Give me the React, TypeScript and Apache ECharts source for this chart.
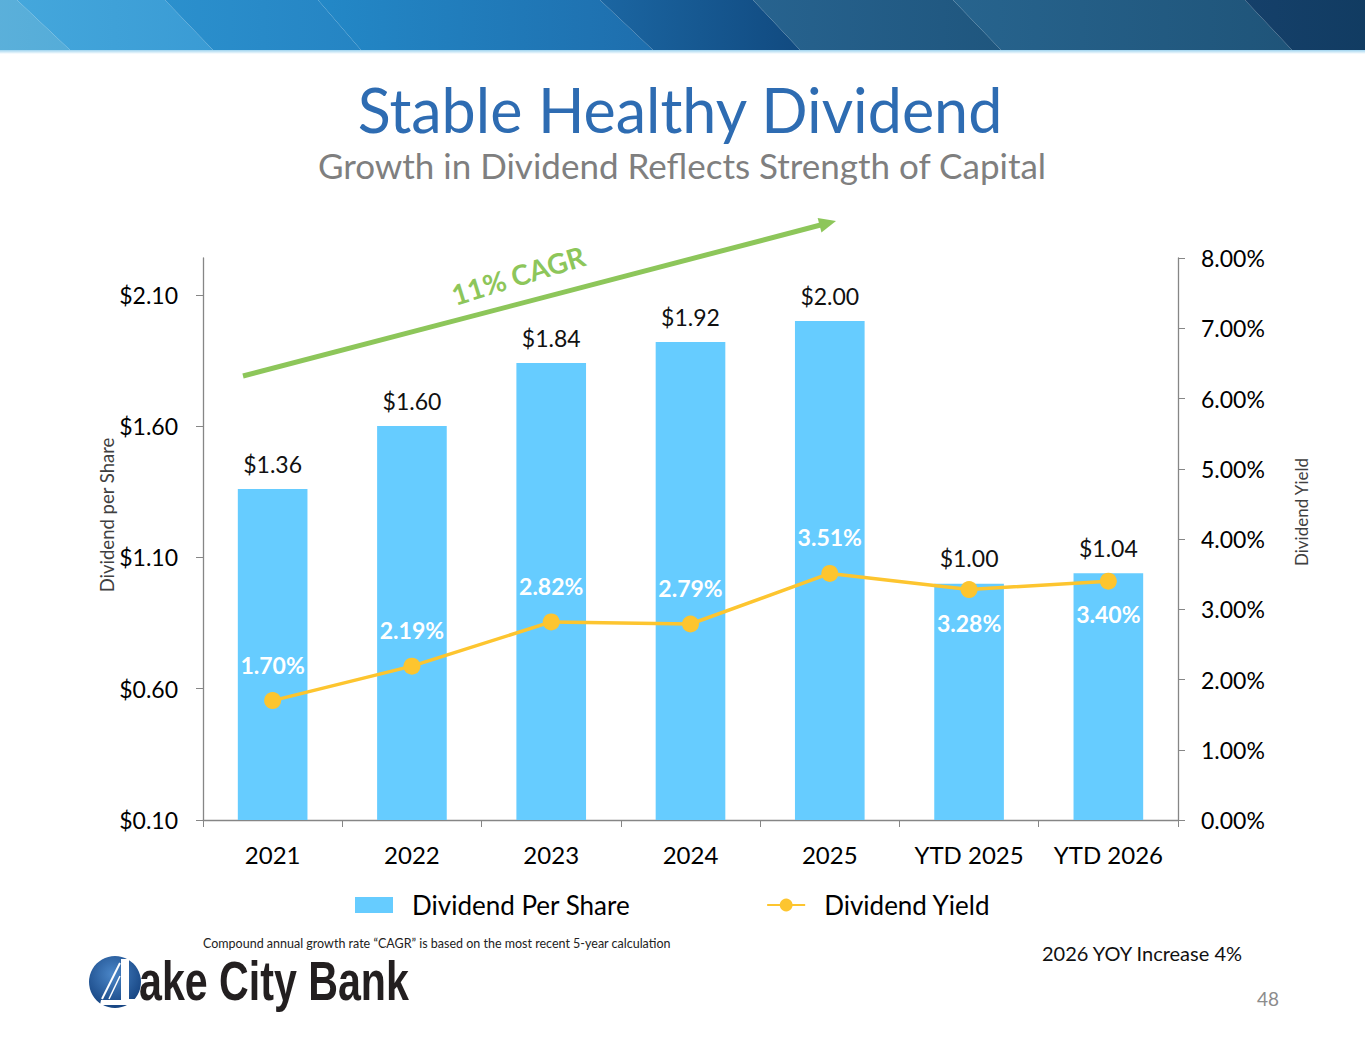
import { useEffect, useRef } from "react";
import * as echarts from "echarts";

const categories = ["2021", "2022", "2023", "2024", "2025", "YTD 2025", "YTD 2026"];
const dividendPerShare = [1.36, 1.6, 1.84, 1.92, 2.0, 1.0, 1.04];
const dividendYield = [1.7, 2.19, 2.82, 2.79, 3.51, 3.28, 3.4];
const shareTicks = [0.1, 0.6, 1.1, 1.6, 2.1];

const FONT = "Lato, 'Open Sans', sans-serif";
const GREEN = "#8dc65a";

// diagonal bands of the header strip: top-left, top-right, bottom-right, bottom-left x, colours
const bands: [number, number, number, number, string, string][] = [
  [-60, 17, 70, -10, "#5fb3dc", "#55acd8"],
  [17, 165, 213, 70, "#44a7dc", "#3a9bd4"],
  [165, 318, 361, 213, "#2b90cd", "#2584c3"],
  [318, 600, 653, 361, "#2388c7", "#1e6ead"],
  [600, 753, 800, 653, "#1b66a2", "#114a80"],
  [753, 953, 1001, 800, "#27638f", "#1f567e"],
  [953, 1245, 1292, 1001, "#27648e", "#1f5479"],
  [1245, 1420, 1470, 1292, "#15406a", "#0e385b"],
];

function headerGraphics() {
  const els: any[] = bands.map(([a, b, c, d, c1, c2]) => ({
    type: "polygon",
    shape: { points: [[a, 0], [b, 0], [c, 50], [d, 50]] },
    style: {
      fill: {
        type: "linear", x: 0, y: 0, x2: 1, y2: 0,
        colorStops: [{ offset: 0, color: c1 }, { offset: 1, color: c2 }],
      },
    },
    silent: true,
  }));
  els.push({
    type: "rect",
    shape: { x: 0, y: 50, width: 1365, height: 4 },
    style: {
      fill: {
        type: "linear", x: 0, y: 0, x2: 0, y2: 1,
        colorStops: [{ offset: 0, color: "#9fd4ef" }, { offset: 1, color: "#ffffff" }],
      },
    },
    silent: true,
  });
  return els;
}

function text(x: number, y: number, t: string, fontSize: number, fill: string, extra: any = {}) {
  const align = extra.align || "left";
  return {
    type: "text",
    x,
    y,
    rotation: extra.rotation || 0,
    scaleX: extra.scaleX || 1,
    silent: true,
    style: {
      text: t,
      fontSize,
      fontFamily: extra.fontFamily || FONT,
      fontWeight: extra.fontWeight || "normal",
      fill,
      align,
      textAlign: align,
      verticalAlign: "middle",
      textVerticalAlign: "middle",
    },
  };
}

function arrowGraphics() {
  const x1 = 243, y1 = 376, tx = 836, ty = 221;
  const len = Math.hypot(tx - x1, ty - y1);
  const dx = (tx - x1) / len, dy = (ty - y1) / len;
  const bx = tx - 17 * dx, by = ty - 17 * dy;
  return [
    {
      type: "line",
      shape: { x1, y1, x2: bx + 2 * dx, y2: by + 2 * dy },
      style: { stroke: GREEN, lineWidth: 5 },
      silent: true,
    },
    {
      type: "polygon",
      shape: {
        points: [[tx, ty], [bx - 7.5 * dy, by + 7.5 * dx], [bx + 7.5 * dy, by - 7.5 * dx]],
      },
      style: { fill: GREEN },
      silent: true,
    },
    text(518, 275, "11% CAGR", 28, GREEN, { align: "center", fontWeight: "bold", rotation: 0.3 }),
  ];
}

function logoGraphics() {
  return [
    {
      type: "circle",
      shape: { cx: 115, cy: 982, r: 26 },
      style: {
        fill: {
          type: "radial", x: 0.45, y: 0.35, r: 0.7,
          colorStops: [{ offset: 0, color: "#4a86c8" }, { offset: 1, color: "#123f7c" }],
        },
      },
      silent: true,
    },
    {
      type: "polygon",
      shape: { points: [[121, 959], [129, 959], [129, 999], [140, 999], [140, 1005], [100, 1005], [101, 1000], [121, 1000]] },
      style: { fill: "#ffffff" },
      silent: true,
    },
    {
      type: "line",
      shape: { x1: 102, y1: 999, x2: 120, y2: 963 },
      style: { stroke: "#ffffff", lineWidth: 2 },
      silent: true,
    },
    {
      type: "line",
      shape: { x1: 109, y1: 999, x2: 120, y2: 976 },
      style: { stroke: "#ffffff", lineWidth: 1.5 },
      silent: true,
    },
    text(139, 981, "ake City Bank", 56, "#231f20", {
      fontFamily: "'Liberation Sans', Arial, sans-serif",
      fontWeight: "bold",
      scaleX: 0.735,
    }),
  ];
}

export default function App() {
  const chartRef = useRef<HTMLDivElement>(null);

  useEffect(() => {
    document.body.style.margin = "0";
    const chart = echarts.init(chartRef.current, null, { renderer: "svg" });

    const options = {
      animation: false,
      backgroundColor: "#ffffff",
      textStyle: { fontFamily: FONT },
      grid: { left: 203, right: 187, top: 258, bottom: 227, containLabel: false },
      legend: {
        left: 355,
        top: 892,
        padding: 0,
        itemWidth: 38,
        itemHeight: 16,
        itemGap: 136,
        textStyle: { fontSize: 26, color: "#000000", fontFamily: FONT, padding: [0, 0, 0, 14] },
        data: [
          { name: "Dividend Per Share", icon: "rect" },
          { name: "Dividend Yield" },
        ],
      },
      xAxis: {
        type: "category",
        data: categories,
        axisLine: { lineStyle: { color: "#868686", width: 1.3 } },
        axisTick: { show: true, length: 7, lineStyle: { color: "#868686" } },
        axisLabel: { interval: 0, fontSize: 24, color: "#000000", margin: 22, fontFamily: FONT },
      },
      yAxis: [
        {
          type: "value",
          min: 0.1,
          max: 2.24,
          splitLine: { show: false },
          axisLine: { show: true, lineStyle: { color: "#868686", width: 1.3 } },
          axisTick: { show: true, length: 7, customValues: shareTicks, lineStyle: { color: "#868686" } },
          axisLabel: {
            customValues: shareTicks,
            fontSize: 23,
            color: "#000000",
            margin: 25,
            fontFamily: FONT,
            formatter: (v: number) => "$" + v.toFixed(2),
          },
        },
        {
          type: "value",
          min: 0,
          max: 8,
          interval: 1,
          position: "right",
          splitLine: { show: false },
          axisLine: { show: true, lineStyle: { color: "#868686", width: 1.3 } },
          axisTick: { show: true, length: 7, lineStyle: { color: "#868686" } },
          axisLabel: {
            fontSize: 23,
            color: "#000000",
            margin: 23,
            fontFamily: FONT,
            formatter: (v: number) => v.toFixed(2) + "%",
          },
        },
      ],
      series: [
        {
          name: "Dividend Per Share",
          type: "bar",
          data: dividendPerShare,
          barWidth: "50%",
          itemStyle: { color: "#66ccff" },
          label: {
            show: true,
            position: "top",
            distance: 14,
            fontSize: 23,
            color: "#111111",
            fontFamily: FONT,
            formatter: (p: any) => "$" + p.value.toFixed(2),
          },
        },
        {
          name: "Dividend Yield",
          type: "line",
          yAxisIndex: 1,
          data: dividendYield.map((v, i) => {
            const below = categories[i].startsWith("YTD");
            return {
              value: v,
              label: { position: below ? "bottom" : "top", distance: below ? 13 : 16 },
            };
          }),
          symbol: "circle",
          symbolSize: 17,
          itemStyle: { color: "#fdc52f" },
          lineStyle: { color: "#fdc52f", width: 3.5 },
          z: 5,
          label: {
            show: true,
            fontSize: 23,
            fontWeight: "bold",
            color: "#ffffff",
            fontFamily: FONT,
            formatter: (p: any) => p.value.toFixed(2) + "%",
          },
        },
      ],
      graphic: [
        ...headerGraphics(),
        text(680, 109, "Stable Healthy Dividend", 61, "#2e6cb2", { align: "center" }),
        text(682, 165, "Growth in Dividend Reflects Strength of Capital", 35, "#7f7f7f", { align: "center" }),
        ...arrowGraphics(),
        text(107, 515, "Dividend per Share", 18.5, "#404040", { align: "center", rotation: Math.PI / 2 }),
        text(1301, 512, "Dividend Yield", 17, "#404040", { align: "center", rotation: Math.PI / 2 }),
        text(203, 943, "Compound annual growth rate “CAGR” is based on the most recent 5-year calculation", 12.5, "#222222"),
        text(1042, 953, "2026 YOY Increase 4%", 20, "#111111"),
        text(1257, 998, "48", 19, "#8c8c8c"),
        ...logoGraphics(),
      ],
    };

    chart.setOption(options);

    return () => {
      chart.dispose();
    };
  }, []);

  return (
    <div
      ref={chartRef}
      style={{ position: "absolute", left: 0, top: 0, width: "1365px", height: "1047px" }}
    />
  );
}
